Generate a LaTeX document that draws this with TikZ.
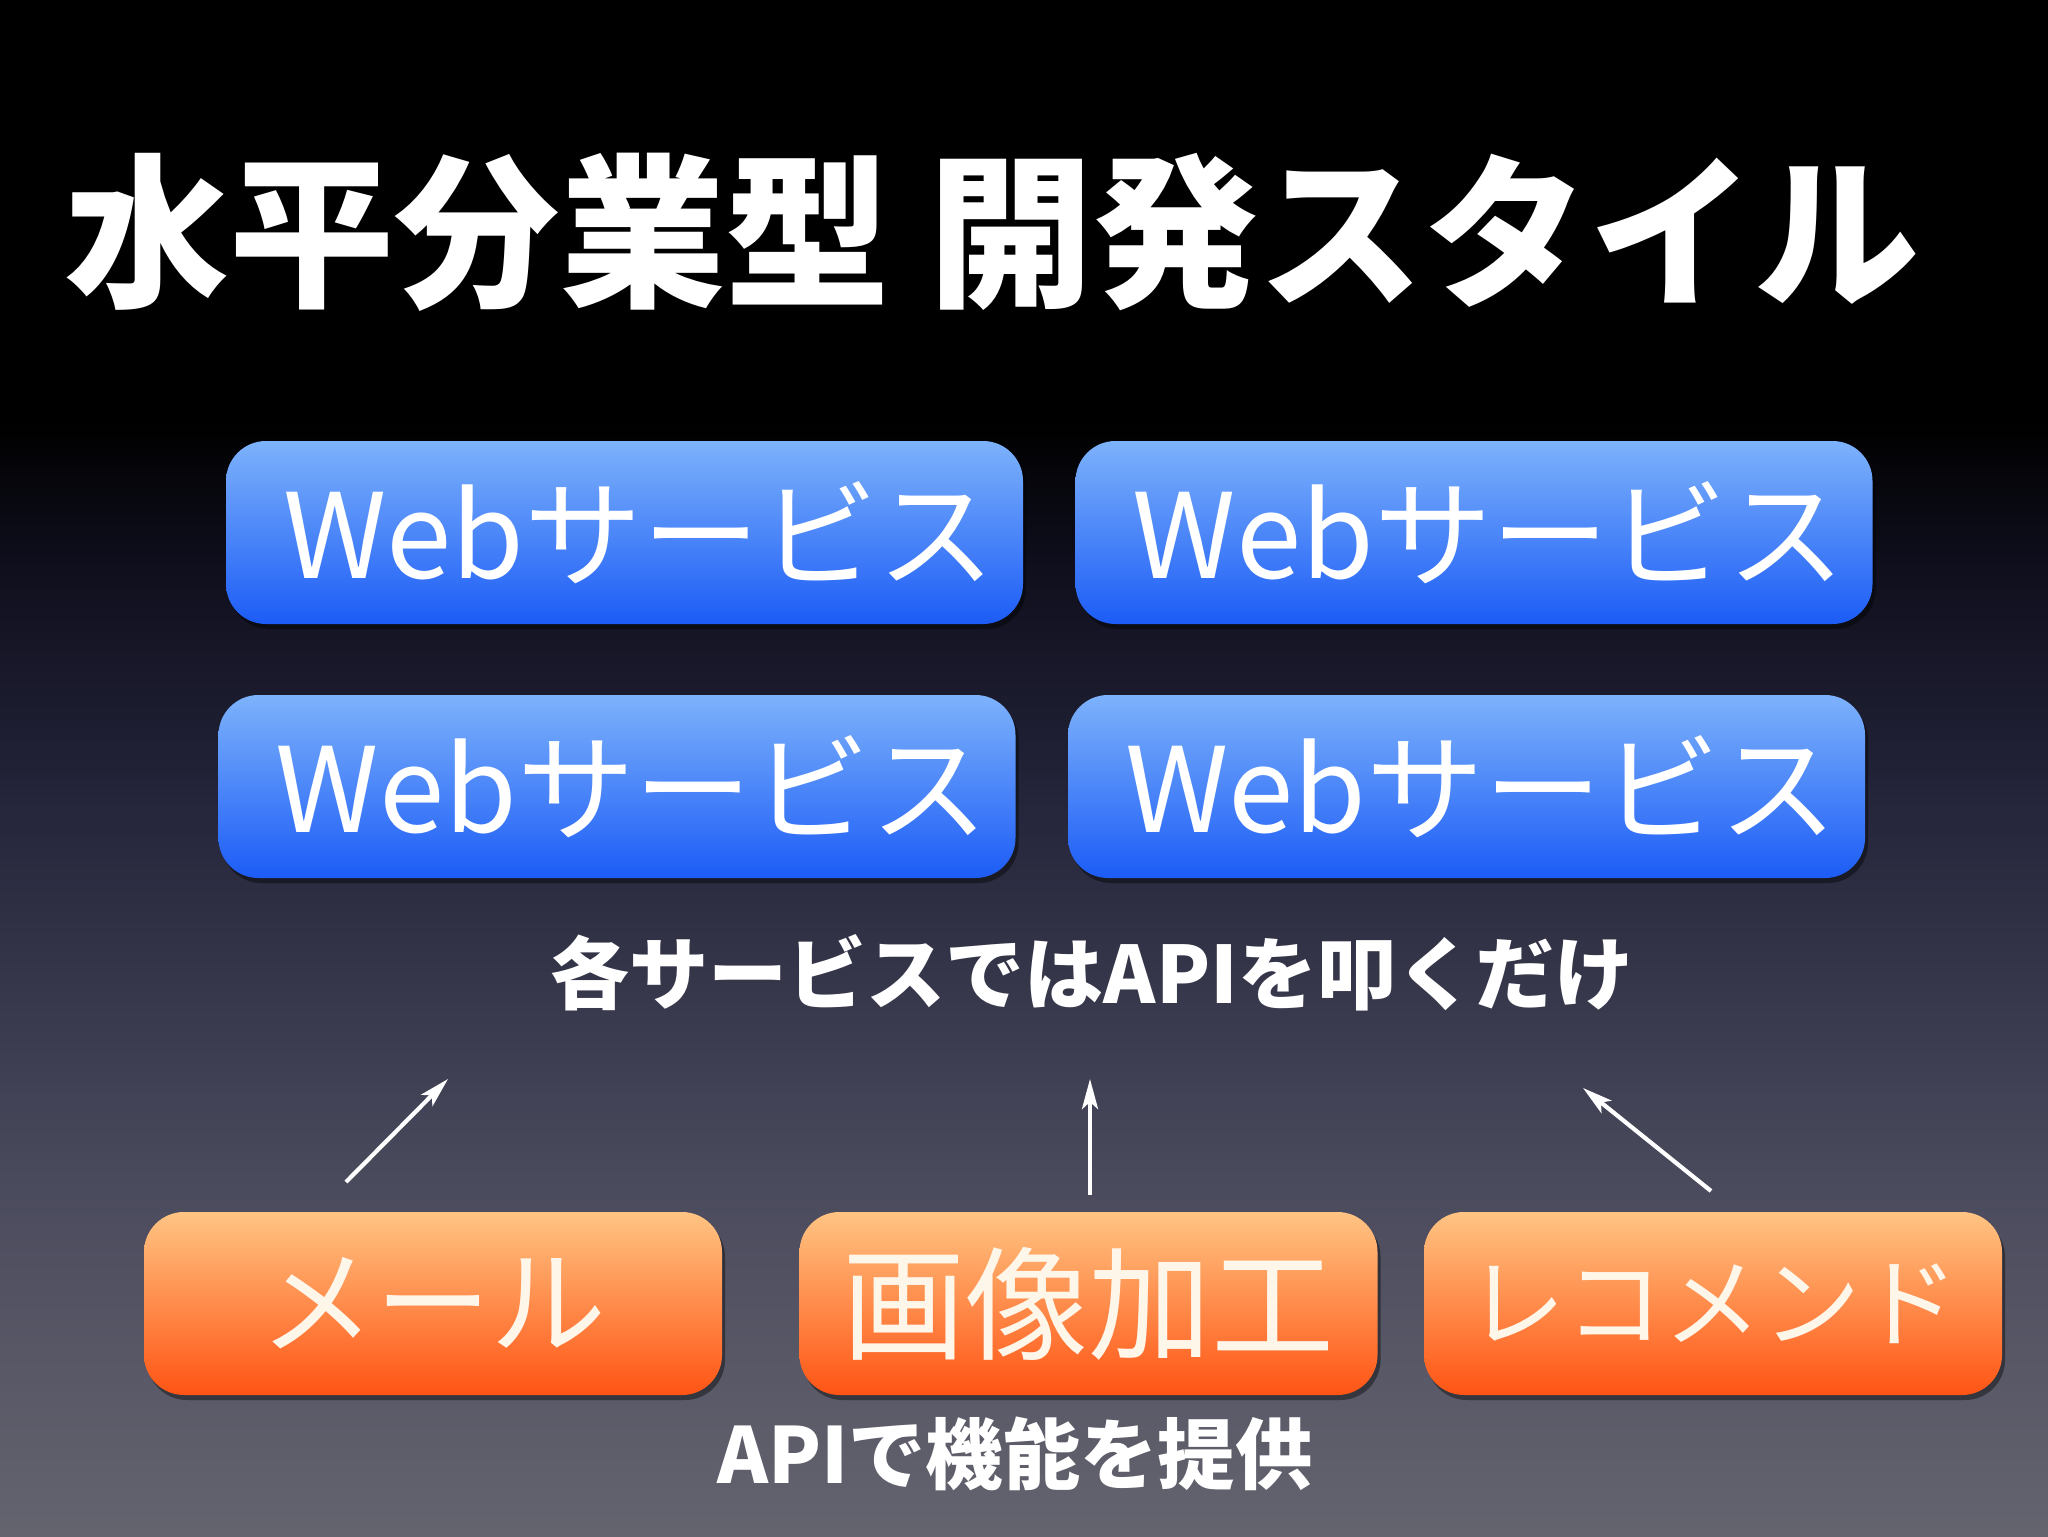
\documentclass[tikz,border=0pt]{standalone}
\usepackage{fontspec}
\newfontfamily\cjk{Noto Sans CJK JP}
\usetikzlibrary{arrows.meta,shadows}
\definecolor{bgA}{HTML}{64646F}
\definecolor{bgB}{HTML}{4A4A5D}
\definecolor{bgC}{HTML}{24243A}
\definecolor{bgD}{HTML}{0E0E1C}
\definecolor{blueTop}{HTML}{7DB2FB}
\definecolor{blueBot}{HTML}{1C5CF6}
\definecolor{orTop}{HTML}{FFC483}
\definecolor{orBot}{HTML}{FF5414}
\definecolor{cream}{HTML}{FFF6EA}
\pgfdeclareverticalshading{bgshade}{100bp}{color(0bp)=(bgA); color(25bp)=(bgA); color(36.7bp)=(bgB); color(49bp)=(bgC); color(56.8bp)=(bgD); color(61.3bp)=(black); color(100bp)=(black)}
\begin{document}
\begin{tikzpicture}[x=0.1mm,y=0.1mm,
  webbox/.style={rounded corners=4mm, minimum width=79.7mm, minimum height=18.3mm, inner sep=0pt,
    top color=blueTop, bottom color=blueBot, draw=none,
    drop shadow={shadow xshift=0.3mm, shadow yshift=-0.5mm, opacity=0.4, fill=black}},
  orbox/.style={rounded corners=4mm, minimum width=57.8mm, minimum height=18.3mm, inner sep=0pt,
    top color=orTop, bottom color=orBot, draw=none,
    drop shadow={shadow xshift=0.3mm, shadow yshift=-0.5mm, opacity=0.4, fill=black}},
  webtxt/.style={text=white, font=\cjk\fontsize{33.5}{38}\selectfont, inner sep=0pt},
  ortxt/.style={text=cream, inner sep=0pt},
  arr/.style={-{Stealth[length=3mm,width=1.6mm,inset=0.7mm]}, draw=white, line width=0.42mm}]
\shade[shading=bgshade] (0,0) rectangle (2048,1536);
\useasboundingbox (0,0) rectangle (2048,1536);

% title
\node[text=white, font=\cjk\bfseries\fontsize{47}{52}\selectfont, inner sep=0pt] (title) at (992,1304) {水平分業型 開発スタイル};

% web service boxes
\node[webbox] (b1) at (624.5,1003.5) {};
\node[webbox] (b2) at (1474,1003.5) {};
\node[webbox] (b3) at (617,749.5) {};
\node[webbox] (b4) at (1466.5,749.5) {};
\foreach \b in {b1,b2,b3,b4}{
  \node[webtxt, xshift=1.5mm] (\b t) at (\b.center) {Webサービス};
}

% middle caption
\node[text=white, font=\cjk\bfseries\fontsize{22.5}{26}\selectfont, inner sep=0pt] (cap1) at (1092,563) {各サービスではAPIを叩くだけ};

% orange boxes
\node[orbox] (o1) at (433,232.5) {};
\node[orbox] (o2) at (1088.5,232.5) {};
\node[orbox] (o3) at (1713,232.5) {};
\node[ortxt, font=\cjk\fontsize{33}{38}\selectfont] (o1t) at (o1.center) {メール};
\node[ortxt, font=\cjk\fontsize{35}{40}\selectfont] (o2t) at (o2.center) {画像加工};
\node[ortxt, font=\cjk\fontsize{28}{32}\selectfont] (o3t) at (o3.center) {レコメンド};

% bottom caption
\node[text=white, font=\cjk\bfseries\fontsize{22}{25}\selectfont, inner sep=0pt] (cap2) at (1015,82) {APIで機能を提供};

% arrows
\coordinate (a1s) at (346,354);
\coordinate (a1e) at (448,457);
\coordinate (a2s) at (1090,341);
\coordinate (a2e) at (1090,457);
\coordinate (a3s) at (1711,345);
\coordinate (a3e) at (1583,448);
\draw[arr] (a1s) -- (a1e);
\draw[arr] (a2s) -- (a2e);
\draw[arr] (a3s) -- (a3e);
\end{tikzpicture}
\end{document}
